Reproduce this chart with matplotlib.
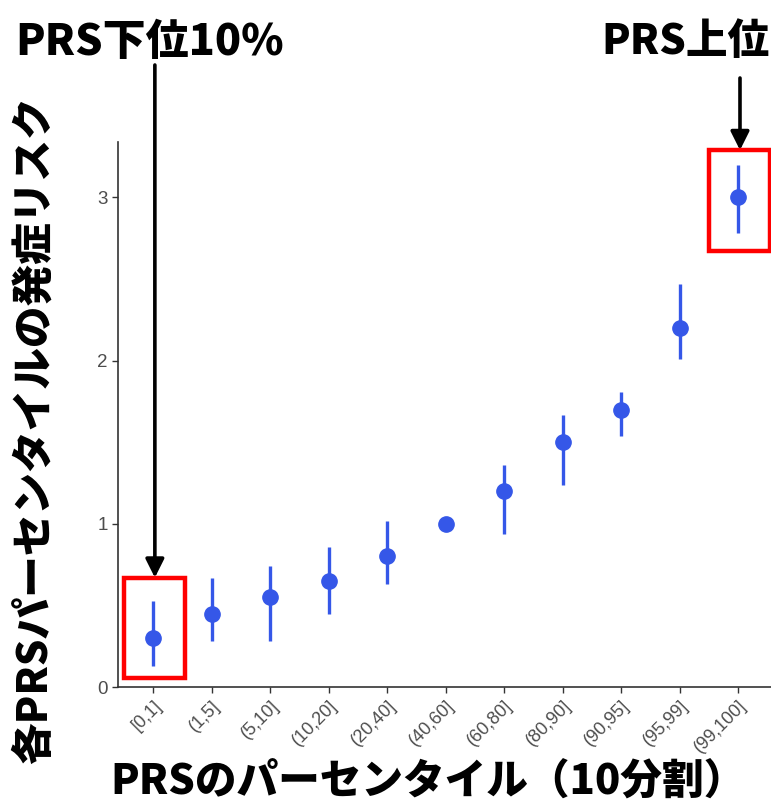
import matplotlib
matplotlib.use("Agg")
import matplotlib.pyplot as plt
from matplotlib.patches import Rectangle

plt.rcParams['font.family'] = ['Liberation Sans', 'DejaVu Sans']

# PRS percentile bins and relative risk with interval
bins = ["[0,1]", "(1,5]", "(5,10]", "(10,20]", "(20,40]", "(40,60]",
        "(60,80]", "(80,90]", "(90,95]", "(95,99]", "(99,100]"]
risk = [0.30, 0.45, 0.55, 0.65, 0.80, 1.00, 1.20, 1.50, 1.70, 2.20, 3.00]
lower = [0.13, 0.28, 0.28, 0.45, 0.63, 1.00, 0.94, 1.24, 1.54, 2.01, 2.78]
upper = [0.53, 0.67, 0.74, 0.86, 1.02, 1.00, 1.36, 1.67, 1.81, 2.47, 3.20]
yticks = [0, 1, 2, 3]

jp = ['Noto Sans CJK JP', 'DejaVu Sans']
blue = "#3557e8"

fig = plt.figure(figsize=(7.71, 8.08), dpi=100)
W, H = 771, 808
ax = fig.add_axes([118 / W, (H - 687) / H, (W - 118) / W, (687 - 142) / H])

x = list(range(1, len(bins) + 1))
ax.vlines(x, lower, upper, color=blue, lw=2.4, zorder=2)
ax.plot(x, risk, 'o', color=blue, ms=11, zorder=3)

ax.set_xlim(0.4, 11.56)
ax.set_ylim(0, 3.34)
ax.set_xticks(x)
ax.set_xticklabels(bins, rotation=45, ha='right', rotation_mode='anchor',
                   fontsize=13, color='#4d4d4d')
ax.set_yticks(yticks)
ax.set_yticklabels([str(v) for v in yticks], fontsize=13.5, color='#4d4d4d')
ax.tick_params(length=4, color='#333333', width=1)
for s in ['top', 'right']:
    ax.spines[s].set_visible(False)
for s in ['left', 'bottom']:
    ax.spines[s].set_color('#333333')
    ax.spines[s].set_linewidth(1.2)

# highlight boxes around the lowest and highest bins
boxes = [(0, 0.055, 0.67), (10, 2.67, 3.29)]
for i, y0, y1 in boxes:
    ax.add_patch(Rectangle((x[i] - 0.5, y0), 1.05, y1 - y0, fill=False,
                           ec='#ff0000', lw=3.2, clip_on=False, zorder=4))

# arrows from the headings down to the boxes
for (i, y0, y1), ystart in zip(boxes, [743, 730]):
    ax.annotate('', xy=(x[i] + 0.03, y1), xycoords='data',
                xytext=(x[i] + 0.03, ystart), textcoords=('data', 'figure pixels'),
                arrowprops=dict(arrowstyle='-|>', color='black', lw=2.6,
                                mutation_scale=28, shrinkA=0, shrinkB=0),
                annotation_clip=False)

fig.text(15 / W, 1 - 42 / H, "PRS下位10%", family=jp, weight='black',
         fontsize=31, ha='left', va='center')
fig.text(601 / W, 1 - 42 / H, "PRS上位", family=jp, weight='black',
         fontsize=30, ha='left', va='center')

fig.text(428 / W, 1 - 783 / H, "PRSのパーセンタイル（10分割）", family=jp,
         weight='black', fontsize=30, ha='center', va='center')
fig.text(35 / W, 1 - 430 / H, "各PRSパーセンタイルの発症リスク", family=jp,
         weight='black', fontsize=30, ha='center', va='center', rotation=90)

fig.savefig("out.png", dpi=100)
